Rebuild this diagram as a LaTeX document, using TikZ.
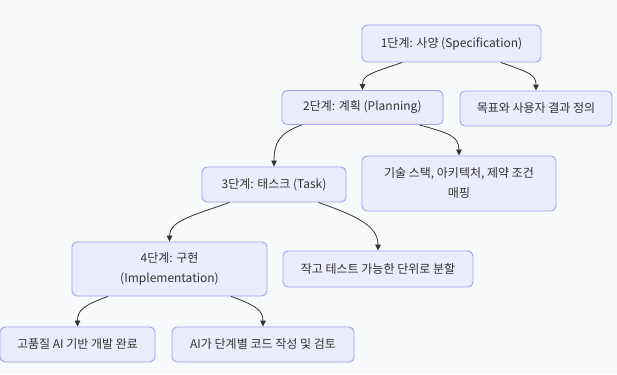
\documentclass[tikz,border=0pt]{standalone}
\usepackage{xcolor}
\usepackage{fontspec}
\setmainfont{Noto Sans CJK KR}
\usepackage{tikz}
\usetikzlibrary{arrows.meta}

\definecolor{bgcol}{RGB}{248,249,251}
\definecolor{boxfill}{RGB}{236,236,255}
\definecolor{boxline}{RGB}{160,160,245}
\definecolor{inkcol}{RGB}{51,51,51}

\tikzset{
  box/.style={draw=boxline, fill=boxfill, line width=0.9pt, rounded corners=5pt,
    text=inkcol, font=\fontsize{12}{20}\selectfont, align=center, inner sep=0pt},
  flow/.style={draw=inkcol, line width=0.8pt, -{Triangle[length=6pt,width=5.5pt]}}
}

\begin{document}
\begin{tikzpicture}[x=1pt,y=-1pt]
\fill[bgcol] (0,0) rectangle (617,374);
\useasboundingbox (0,0) rectangle (617,374);
% stages
\node[box, minimum width=179pt, minimum height=37pt] (s1) at (451.5,43.5) {1단계: 사양 (Specification)};
\node[box, minimum width=161pt, minimum height=34pt] (s2) at (362.5,107.5) {2단계: 계획 (Planning)};
\node[box, minimum width=144pt, minimum height=35pt] (s3) at (274,184.5) {3단계: 태스크 (Task)};
\node[box, minimum width=195pt, minimum height=54pt] (s4) at (169.5,269) {4단계: 구현\\(Implementation)};
% results
\node[box, minimum width=152pt, minimum height=35pt] (g1) at (536,108.5) {목표와 사용자 결과 정의};
\node[box, minimum width=194pt, minimum height=55pt] (g2) at (459,183.5) {기술 스택, 아키텍처, 제약 조건\\매핑};
\node[box, minimum width=190pt, minimum height=36pt] (g3) at (378,269) {작고 테스트 가능한 단위로 분할};
\node[box, minimum width=155pt, minimum height=35pt] (g4) at (77.5,344.5) {고품질 AI 기반 개발 완료};
\node[box, minimum width=182pt, minimum height=35pt] (g5) at (263,344.5) {AI가 단계별 코드 작성 및 검토};
% connectors
\draw[flow] (s1.201) .. controls +(-28,10) and +(0,-16) .. (s2.north);
\draw[flow] (s1.339) .. controls +(28,10) and +(0,-16) .. (g1.north);
\draw[flow] (s2.196) .. controls +(-22,8) and +(0,-24) .. (s3.north);
\draw[flow] (s2.343) .. controls +(28,8) and +(0,-20) .. (g2.north);
\draw[flow] (s3.202) .. controls +(-40,14) and +(0,-20) .. (s4.north);
\draw[flow] (s3.338) .. controls +(40,14) and +(0,-24) .. (g3.north);
\draw[flow] (s4.204) .. controls +(-25,9) and +(0,-16) .. (g4.north);
\draw[flow] (s4.336) .. controls +(25,9) and +(0,-16) .. (g5.north);
\end{tikzpicture}
\end{document}
